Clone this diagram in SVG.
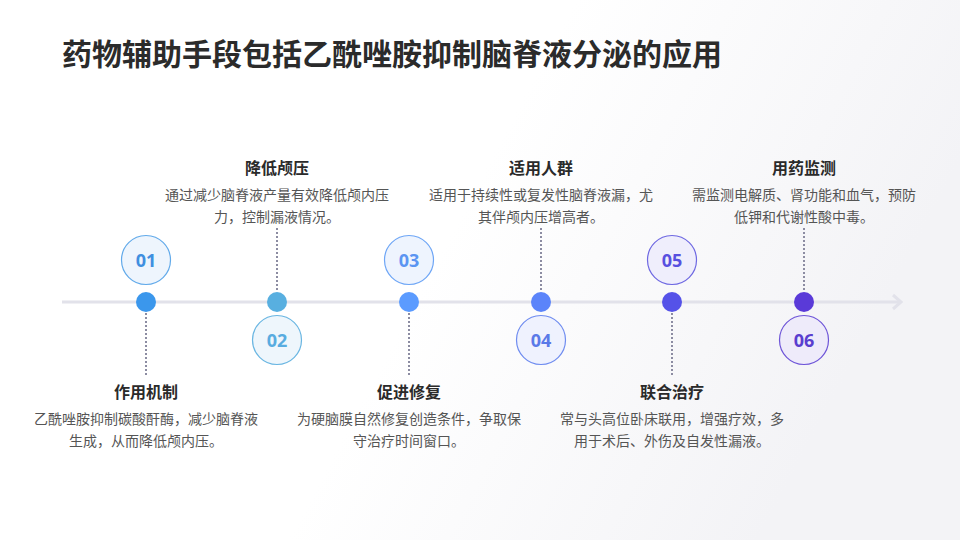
<svg xmlns="http://www.w3.org/2000/svg" width="960" height="540" viewBox="0 0 960 540">
  <defs>
    <linearGradient id="bg" x1="0" y1="0" x2="1" y2="0.3">
      <stop offset="0" stop-color="#ffffff"/>
      <stop offset="0.55" stop-color="#ffffff"/>
      <stop offset="1" stop-color="#f3f3f6"/>
    </linearGradient>
    <style>
      .title{font-family:"Noto Sans CJK SC","Noto Sans",sans-serif;font-weight:700;font-size:30px;fill:#2b2b2b}
      .h{font-family:"Noto Sans CJK SC","Noto Sans",sans-serif;font-weight:700;font-size:16px;fill:#2a2a2a;text-anchor:middle}
      .d{font-family:"Noto Sans CJK SC","Noto Sans",sans-serif;font-size:14px;fill:#555;text-anchor:middle}
      .n{font-family:"Open Sans","Noto Sans",sans-serif;font-weight:700;font-size:18px;text-anchor:middle}
      .dash{stroke:#8c8ca2;stroke-width:2;stroke-dasharray:2 2;fill:none}
    </style>
  </defs>
  <rect width="960" height="540" fill="url(#bg)"/>
  <text class="title" x="62" y="65">药物辅助手段包括乙酰唑胺抑制脑脊液分泌的应用</text>

  <g id="connectors">
    <line x1="62" y1="302" x2="900" y2="302" stroke="#e2e2ea" stroke-width="3"/>
    <polyline points="893,295 901,302 893,309" fill="none" stroke="#e2e2ea" stroke-width="3"/>
    <line class="dash" x1="146" y1="313" x2="146" y2="376"/>
    <line class="dash" x1="277" y1="228" x2="277" y2="291"/>
    <line class="dash" x1="409" y1="313" x2="409" y2="376"/>
    <line class="dash" x1="541" y1="228" x2="541" y2="291"/>
    <line class="dash" x1="672" y1="313" x2="672" y2="376"/>
    <line class="dash" x1="804" y1="228" x2="804" y2="291"/>
  </g>

  <g id="step01">
    <circle cx="146" cy="302" r="10" fill="#3b97ec"/>
    <circle cx="146" cy="260" r="24.5" fill="#eef5fd" stroke="#62aaea" stroke-width="1.2"/>
    <text class="n" x="146" y="266.5" fill="#3f8fe0">01</text>
    <text class="h" x="146" y="398">作用机制</text>
    <text class="d" x="146" y="424">乙酰唑胺抑制碳酸酐酶，减少脑脊液</text>
    <text class="d" x="146" y="446">生成，从而降低颅内压。</text>
  </g>

  <g id="step02">
    <circle cx="277" cy="302" r="10" fill="#58afe0"/>
    <circle cx="277" cy="340" r="24.5" fill="#eef6fc" stroke="#6ab6e2" stroke-width="1.2"/>
    <text class="n" x="277" y="346.5" fill="#58ace0">02</text>
    <text class="h" x="277" y="174">降低颅压</text>
    <text class="d" x="277" y="200">通过减少脑脊液产量有效降低颅内压</text>
    <text class="d" x="277" y="222">力，控制漏液情况。</text>
  </g>

  <g id="step03">
    <circle cx="409" cy="302" r="10" fill="#5b9bff"/>
    <circle cx="409" cy="260" r="24.5" fill="#eef4fe" stroke="#6ea6f6" stroke-width="1.2"/>
    <text class="n" x="409" y="266.5" fill="#5b95f2">03</text>
    <text class="h" x="409" y="398">促进修复</text>
    <text class="d" x="409" y="424">为硬脑膜自然修复创造条件，争取保</text>
    <text class="d" x="409" y="446">守治疗时间窗口。</text>
  </g>

  <g id="step04">
    <circle cx="541" cy="302" r="10" fill="#5b84fa"/>
    <circle cx="541" cy="340" r="24.5" fill="#eff2fe" stroke="#6f8cf0" stroke-width="1.2"/>
    <text class="n" x="541" y="346.5" fill="#5a7ae8">04</text>
    <text class="h" x="541" y="174">适用人群</text>
    <text class="d" x="541" y="200">适用于持续性或复发性脑脊液漏，尤</text>
    <text class="d" x="541" y="222">其伴颅内压增高者。</text>
  </g>

  <g id="step05">
    <circle cx="672" cy="302" r="10" fill="#5552e8"/>
    <circle cx="672" cy="260" r="24.5" fill="#efeefc" stroke="#6e68e2" stroke-width="1.2"/>
    <text class="n" x="672" y="266.5" fill="#5850e0">05</text>
    <text class="h" x="672" y="398">联合治疗</text>
    <text class="d" x="672" y="424">常与头高位卧床联用，增强疗效，多</text>
    <text class="d" x="672" y="446">用于术后、外伤及自发性漏液。</text>
  </g>

  <g id="step06">
    <circle cx="804" cy="302" r="10" fill="#5a3ad8"/>
    <circle cx="804" cy="340" r="24.5" fill="#eeebfa" stroke="#6e55d8" stroke-width="1.2"/>
    <text class="n" x="804" y="346.5" fill="#5a3ecf">06</text>
    <text class="h" x="804" y="174">用药监测</text>
    <text class="d" x="804" y="200">需监测电解质、肾功能和血气，预防</text>
    <text class="d" x="804" y="222">低钾和代谢性酸中毒。</text>
  </g>
</svg>
